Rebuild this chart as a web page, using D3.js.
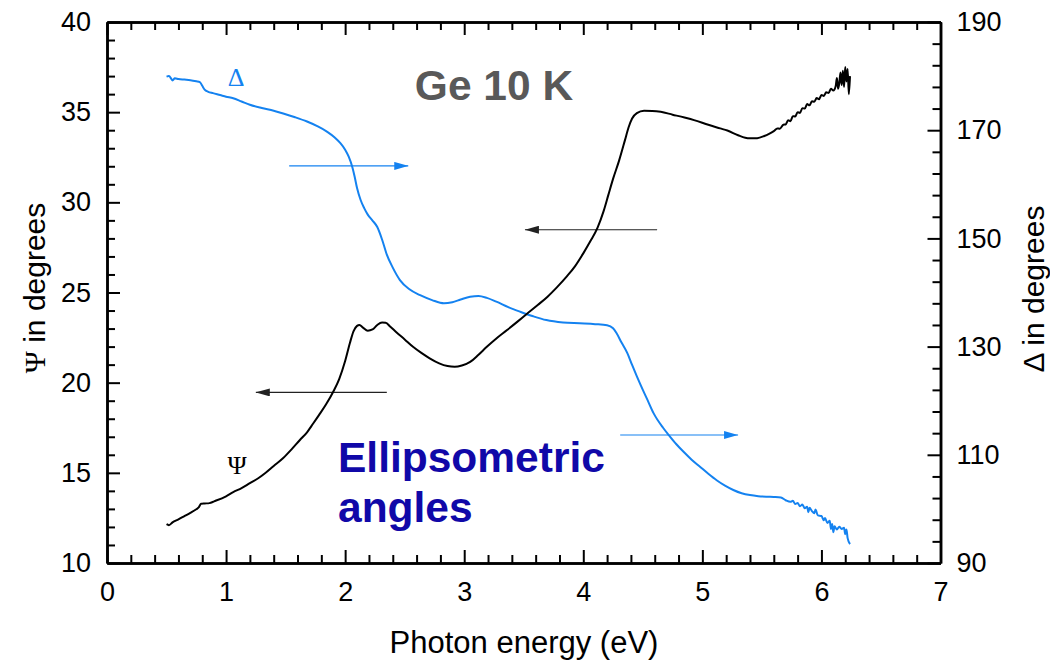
<!DOCTYPE html>
<html lang="en">
<head>
<meta charset="UTF-8">
<title>Ge 10 K ellipsometric angles</title>
<script src="https://d3js.org/d3.v7.min.js"></script>
<style>
    body { margin: 0; background: #fff; }
    svg text { font-family: "Liberation Sans", Arial, sans-serif; }
    .axis path, .axis line { stroke: #000; }
    .axis path { stroke-width: 2.5; }
    .axis line { stroke-width: 2; }
    .axis text { font-size: 27px; fill: #000; }
</style>
</head>
<body>
<svg id="chart" width="1050" height="663"></svg>
<script>
// Psi (left axis), photon energy in eV
const psiEnergy = [0.50,0.52,0.55,0.60,0.65,0.70,0.75,0.77,0.79,0.82,0.86,0.90,1.00,1.06,1.13,1.20,1.27,1.33,1.40,1.48,
    1.55,1.62,1.68,1.73,1.78,1.84,1.90,1.95,2.00,2.04,2.07,2.10,2.12,2.15,2.19,2.23,2.27,2.31,2.34,2.38,
    2.43,2.50,2.57,2.64,2.71,2.79,2.86,2.92,2.98,3.05,3.12,3.19,3.27,3.36,3.45,3.53,3.62,3.70,3.78,3.86,
    3.93,4.00,4.06,4.12,4.17,4.21,4.25,4.30,4.35,4.38,4.41,4.45,4.51,4.58,4.65,4.75,4.85,4.93,5.05,5.15,
    5.21,5.30,5.36,5.40,5.46,5.52,5.56,5.60,5.63,5.65,5.68,5.70,5.72,5.74,5.76,5.78,5.80,5.82,5.84,5.86,
    5.88,5.90,5.92,5.94,5.96,5.98,6.00,6.02,6.04,6.06,6.08,6.10,6.12,6.13,6.14,6.15,6.16,6.17,6.18,6.19,
    6.20,6.21,6.22,6.23,6.24];
const psiValues = [12.15,12.10,12.25,12.42,12.60,12.78,12.98,13.08,13.28,13.30,13.32,13.42,13.70,13.93,14.15,14.43,14.70,14.99,15.38,15.82,
    16.30,16.82,17.25,17.72,18.20,18.80,19.50,20.20,21.20,22.20,22.85,23.15,23.20,23.05,22.88,22.95,23.20,23.33,23.32,23.10,
    22.80,22.40,21.99,21.65,21.35,21.07,20.92,20.88,20.95,21.15,21.55,21.99,22.45,22.92,23.40,23.84,24.32,24.77,25.30,25.88,
    26.45,27.17,27.85,28.60,29.50,30.40,31.30,32.30,33.45,34.15,34.65,34.95,35.08,35.07,35.02,34.86,34.70,34.56,34.30,34.10,
    33.98,33.72,33.58,33.55,33.56,33.68,33.80,33.95,34.10,34.08,34.30,34.32,34.55,34.50,34.78,34.76,35.00,34.96,35.22,35.20,
    35.45,35.38,35.60,35.58,35.78,35.72,35.95,35.90,36.10,36.06,36.30,36.20,36.45,36.90,36.30,36.60,37.20,36.50,37.30,36.40,
    37.50,36.70,37.40,36.00,37.00];

// Delta (right axis)
const deltaEnergy = [0.50,0.52,0.54,0.55,0.57,0.60,0.65,0.70,0.75,0.78,0.80,0.82,0.85,0.89,0.95,1.00,1.06,1.13,1.20,1.30,
    1.40,1.48,1.58,1.68,1.77,1.85,1.91,1.96,2.00,2.03,2.06,2.08,2.10,2.13,2.16,2.19,2.23,2.27,2.31,2.35,
    2.40,2.46,2.54,2.63,2.73,2.83,2.90,2.97,3.05,3.12,3.19,3.27,3.37,3.47,3.58,3.69,3.83,3.97,4.10,4.20,
    4.25,4.28,4.32,4.37,4.41,4.45,4.50,4.54,4.59,4.67,4.72,4.78,4.84,4.91,4.98,5.05,5.12,5.19,5.26,5.33,
    5.40,5.47,5.54,5.60,5.66,5.70,5.74,5.76,5.78,5.80,5.82,5.84,5.86,5.88,5.89,5.90,5.92,5.94,5.95,5.97,
    6.00,6.02,6.03,6.05,6.07,6.08,6.09,6.10,6.11,6.13,6.15,6.17,6.19,6.20,6.21,6.22,6.24];
const deltaValues = [179.9,180.0,179.5,179.2,179.6,179.45,179.35,179.25,179.05,178.9,178.2,177.5,177.1,176.85,176.5,176.2,175.9,175.3,174.7,174.1,
    173.6,173.1,172.4,171.6,170.7,169.7,168.7,167.6,166.4,165.1,163.2,161.4,159.3,157.1,155.6,154.4,153.3,152.1,149.8,147.0,
    144.6,142.3,140.6,139.5,138.6,138.0,138.2,138.7,139.2,139.35,139.0,138.3,137.3,136.45,135.6,134.9,134.45,134.3,134.15,133.95,
    133.4,132.45,130.8,128.8,126.6,124.5,122.0,120.1,117.7,115.0,113.6,112.0,110.6,109.1,107.8,106.5,105.3,104.3,103.5,102.9,
    102.55,102.35,102.25,102.2,102.1,101.6,101.3,101.5,100.9,101.1,100.5,100.8,100.1,100.4,99.4,100.2,99.6,99.2,99.9,98.8,
    98.7,97.9,98.3,97.4,97.8,96.3,97.2,95.7,96.8,96.2,96.7,96.3,96.5,95.3,96.2,94.6,93.5];

// direction arrows: [from energy, to energy, value] in data units
const psiArrows = [[4.62, 3.51, 28.48], [2.35, 1.25, 19.46]];
const deltaArrows = [[1.53, 2.53, 163.4], [4.31, 5.30, 113.66]];

const xTicks = [0, 1, 2, 3, 4, 5, 6, 7];
const psiTicks = [10, 15, 20, 25, 30, 35, 40];
const deltaTicks = [90, 110, 130, 150, 170, 190];

const blue = "#1482f0";

const svg = d3.select("#chart");
const margin = {top: 22, right: 110, bottom: 100, left: 107};
const W = 1050, H = 663;

const x = d3.scaleLinear().domain([0, 7]).range([margin.left, W - margin.right + 0.5]);
const yL = d3.scaleLinear().domain([10, 40]).range([H - margin.bottom, margin.top]);
const yR = d3.scaleLinear().domain([90, 190]).range([H - margin.bottom, margin.top]);

const x0 = x.range()[0], x1 = x.range()[1], yb = yL.range()[0], yt = yL.range()[1];

svg.append("rect").attr("width", W).attr("height", H).attr("fill", "#fff");

// minor ticks
const minorX = d3.range(0, 7.001, 0.2).filter(v => Math.abs(v - Math.round(v)) > 1e-6);
const minorL = d3.range(10, 40.001, 1).filter(v => v % 5 !== 0);
const minorR = d3.range(90, 190.001, 4).filter(v => (v - 90) % 20 !== 0);

function addAxis(axis, tr) {
    return svg.append("g").attr("class", "axis").attr("transform", tr).call(axis);
}

addAxis(d3.axisBottom(x).tickValues(minorX).tickSize(-8).tickSizeOuter(0).tickFormat(""), `translate(0,${yb})`);
addAxis(d3.axisTop(x).tickValues(minorX).tickSize(-8).tickSizeOuter(0).tickFormat(""), `translate(0,${yt})`);
addAxis(d3.axisLeft(yL).tickValues(minorL).tickSize(-8).tickSizeOuter(0).tickFormat(""), `translate(${x0},0)`);
addAxis(d3.axisRight(yR).tickValues(minorR).tickSize(-8).tickSizeOuter(0).tickFormat(""), `translate(${x1},0)`);

addAxis(d3.axisBottom(x).tickValues(xTicks).tickSize(-13).tickSizeOuter(0).tickPadding(19).tickFormat(d3.format("d")), `translate(0,${yb})`);
addAxis(d3.axisTop(x).tickValues(xTicks).tickSize(-13).tickSizeOuter(0).tickFormat(""), `translate(0,${yt})`);
addAxis(d3.axisLeft(yL).tickValues(psiTicks).tickSize(-13).tickSizeOuter(0).tickPadding(16), `translate(${x0},0)`);
addAxis(d3.axisRight(yR).tickValues(deltaTicks).tickSize(-13).tickSizeOuter(0).tickPadding(16), `translate(${x1},0)`);

// arrow heads
const defs = svg.append("defs");
[["headBlack", "#222"], ["headBlue", blue]].forEach(([id, c]) => {
    defs.append("marker")
        .attr("id", id)
        .attr("viewBox", "0 0 14 8")
        .attr("refX", 14).attr("refY", 4)
        .attr("markerWidth", 14).attr("markerHeight", 8)
        .attr("markerUnits", "userSpaceOnUse")
        .attr("orient", "auto")
        .append("path").attr("d", "M0,0L14,4L0,8Z").attr("fill", c);
});

svg.selectAll(".psiArrow").data(psiArrows).enter().append("line")
    .attr("x1", d => x(d[0])).attr("x2", d => x(d[1]))
    .attr("y1", d => yL(d[2])).attr("y2", d => yL(d[2]))
    .attr("stroke", "#222").attr("stroke-width", 1.2)
    .attr("marker-end", "url(#headBlack)");

svg.selectAll(".deltaArrow").data(deltaArrows).enter().append("line")
    .attr("x1", d => x(d[0])).attr("x2", d => x(d[1]))
    .attr("y1", d => yR(d[2])).attr("y2", d => yR(d[2]))
    .attr("stroke", blue).attr("stroke-width", 1.2)
    .attr("marker-end", "url(#headBlue)");

// curves
const psiData = psiEnergy.map((e, i) => [e, psiValues[i]]);
const deltaData = deltaEnergy.map((e, i) => [e, deltaValues[i]]);

svg.append("path").datum(deltaData)
    .attr("fill", "none").attr("stroke", blue).attr("stroke-width", 2)
    .attr("stroke-linejoin", "round")
    .attr("d", d3.line().x(d => x(d[0])).y(d => yR(d[1])).curve(d3.curveMonotoneX));

svg.append("path").datum(psiData)
    .attr("fill", "none").attr("stroke", "#000").attr("stroke-width", 2)
    .attr("stroke-linejoin", "round")
    .attr("d", d3.line().x(d => x(d[0])).y(d => yL(d[1])).curve(d3.curveMonotoneX));

// labels
svg.append("text").attr("x", 236).attr("y", 86)
    .attr("text-anchor", "middle")
    .style("font-family", "'Liberation Serif', serif").style("font-size", "26px")
    .attr("fill", blue).text("Δ");

svg.append("text").attr("x", 237).attr("y", 474)
    .attr("text-anchor", "middle")
    .style("font-family", "'Liberation Serif', serif").style("font-size", "26px")
    .attr("fill", "#000").text("Ψ");

svg.append("text").attr("x", 494).attr("y", 100)
    .attr("text-anchor", "middle")
    .style("font-size", "42.5px").style("font-weight", "bold")
    .attr("fill", "#595959").text("Ge 10 K");

const ell = svg.append("text").attr("x", 338).attr("y", 472)
    .style("font-size", "42.5px").style("font-weight", "bold")
    .attr("fill", "#1008a8");
ell.append("tspan").attr("x", 338).text("Ellipsometric");
ell.append("tspan").attr("x", 338).attr("dy", 50).text("angles");

svg.append("text").attr("x", 524).attr("y", 653)
    .attr("text-anchor", "middle").style("font-size", "31px")
    .text("Photon energy (eV)");

const yTitle = svg.append("text")
    .attr("transform", `translate(45,288) rotate(-90)`)
    .attr("text-anchor", "middle").style("font-size", "30px");
yTitle.append("tspan").style("font-family", "'Liberation Serif', serif").text("Ψ");
yTitle.append("tspan").text(" in degrees");

svg.append("text")
    .attr("transform", `translate(1044,289) rotate(-90)`)
    .attr("text-anchor", "middle").style("font-size", "30px")
    .text("Δ in degrees");
</script>
</body>
</html>
